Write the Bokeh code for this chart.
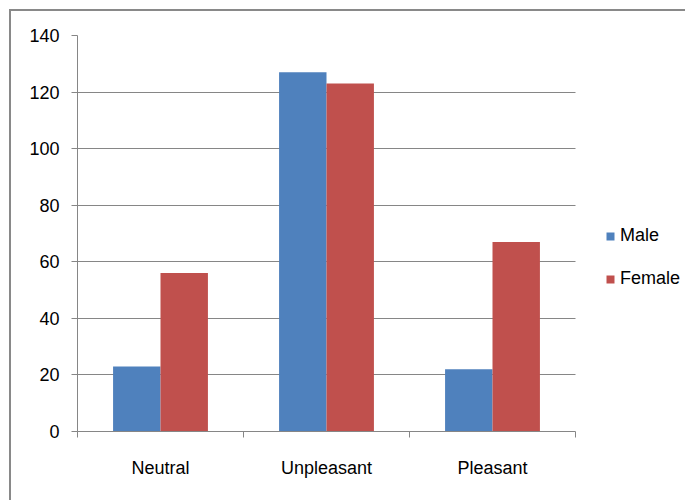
from bokeh.plotting import figure
from bokeh.models import FixedTicker, Legend, LegendItem, Range1d, ColumnDataSource
from bokeh.transform import dodge
from bokeh.embed import file_html
from bokeh.resources import INLINE

categories = ["Neutral", "Unpleasant", "Pleasant"]
male = [23, 127, 22]
female = [56, 123, 67]
y_ticks = [0, 20, 40, 60, 80, 100, 120, 140]

centers = [i + 0.5 for i in range(len(categories))]
bounds = list(range(len(categories) + 1))
src = ColumnDataSource(dict(x=centers, male=male, female=female))

FONT = "'Liberation Sans', Arial, sans-serif"
FS = "18px"
GRAY = "#868686"
TXT = "#000000"

W, H = 685, 500
LEFT, TOP, BOTTOM = 77, 35, 69
CAT_PX = 498  # pixel width taken by the category area
x_end = len(categories) * (W - LEFT) / CAT_PX

p = figure(width=W, height=H, output_backend="svg", toolbar_location=None,
           x_range=Range1d(0, x_end), y_range=Range1d(0, 140),
           min_border_left=LEFT, min_border_top=TOP, min_border_right=0,
           min_border_bottom=BOTTOM)
p.border_fill_alpha = 0
p.outline_line_color = None
p.styles = {"box-shadow": "inset 9px 9px 0 #ffffff, inset 11px 11px 0 #898989"}

bw = 0.2857
r1 = p.vbar(x=dodge('x', -bw / 2, range=p.x_range), top='male', width=bw,
            source=src, fill_color="#4F81BD", line_color=None)
r2 = p.vbar(x=dodge('x', bw / 2, range=p.x_range), top='female', width=bw,
            source=src, fill_color="#C0504D", line_color=None)

xa = p.xaxis[0]
xa.bounds = (0, len(categories))
xa.ticker = FixedTicker(ticks=centers, minor_ticks=bounds)
xa.major_label_overrides = {c: n for c, n in zip(centers, categories)}
xa.major_tick_out = 0
xa.major_tick_in = 0
xa.minor_tick_out = 6
xa.minor_tick_in = 0
xa.minor_tick_line_color = GRAY
xa.axis_line_color = GRAY
xa.major_label_standoff = 20
xa.major_label_text_font = FONT
xa.major_label_text_font_size = FS
xa.major_label_text_color = TXT

ya = p.yaxis[0]
ya.ticker = FixedTicker(ticks=y_ticks, minor_ticks=[])
ya.major_tick_out = 6
ya.major_tick_in = 0
ya.major_tick_line_color = GRAY
ya.axis_line_color = GRAY
ya.major_label_standoff = 12
ya.major_label_text_font = FONT
ya.major_label_text_font_size = FS
ya.major_label_text_color = TXT

p.xgrid.visible = False
p.ygrid.grid_line_color = GRAY
p.ygrid.ticker = ya.ticker
p.ygrid.cross_bounds = (0, len(categories))

legend = Legend(items=[LegendItem(label="Male", renderers=[r1]),
                       LegendItem(label="Female", renderers=[r2])],
                location=(528, 142), glyph_width=10, glyph_height=10,
                label_height=20, spacing=22, padding=0, margin=0,
                border_line_color=None, background_fill_alpha=0,
                label_text_font=FONT, label_text_font_size=FS,
                label_text_color=TXT, label_standoff=5)
p.add_layout(legend, "center")

open("out.html", "w").write(file_html(p, INLINE))
